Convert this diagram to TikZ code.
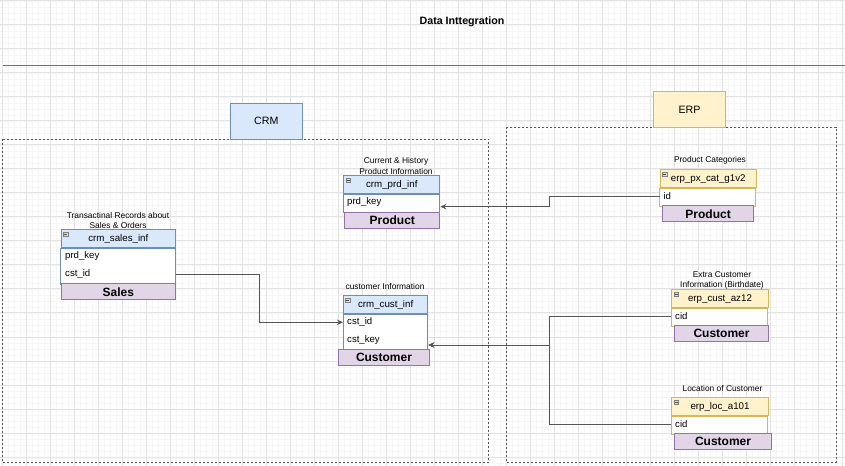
\documentclass[tikz,border=0pt]{standalone}
\usepackage{fontspec}
\setmainfont{Liberation Sans}
\usetikzlibrary{arrows.meta,calc}
\definecolor{crmfill}{HTML}{DAE8FC}
\definecolor{crmline}{HTML}{6C8EBF}
\definecolor{erpfill}{HTML}{FFF2CC}
\definecolor{erpline}{HTML}{D6B656}
\definecolor{tagfill}{HTML}{E1D5E7}
\definecolor{tagline}{HTML}{9673A6}
\definecolor{wire}{HTML}{555555}
\definecolor{rule}{HTML}{707070}
\definecolor{gridmaj}{HTML}{E2E2E2}
\definecolor{gridmin}{HTML}{F6F6F6}
\newcommand{\pxu}{0.75pt}
\tikzset{px/.style={x=0.75pt,y=-0.75pt,line width=.75pt},
  grp/.style={draw=#1line,fill=#1fill,inner sep=0pt,minimum width=72.5*\pxu,minimum height=36*\pxu,font=\fontsize{8}{9}\selectfont},
  grpbox/.style={draw=wire,dash pattern=on 1.5pt off 1.5pt,line width=.6pt},
  hdr/.style 2 args={draw=#1line,fill=#1fill,anchor=north west,inner sep=0pt,minimum width=#2*\pxu,minimum height=18*\pxu,font=\fontsize{7.3}{8}\selectfont},
  rowtxt/.style={anchor=west,inner sep=0pt,font=\fontsize{7.2}{8}\selectfont},
  tag/.style={draw=tagline,fill=tagfill,anchor=north west,inner sep=0pt,minimum width=#1*\pxu,minimum height=16*\pxu,font=\fontsize{9}{10}\selectfont\bfseries},
  captxt/.style={align=center,inner sep=0pt,font=\fontsize{6.3}{7.5}\selectfont},
  conn/.style={draw=wire,line width=.75pt,-{Stealth[length=4.5pt,width=4pt]}}}

\begin{document}
\begin{tikzpicture}[px]
  \useasboundingbox (0,0) rectangle (845,466);
  \fill[white] (0,0) rectangle (845,466);
  % background grid
  \foreach \gx in {2.5,8.5,...,845} \draw[gridmin,line width=.6pt] (\gx,0)--(\gx,466);
  \foreach \gy in {1,7,...,466} \draw[gridmin,line width=.6pt] (0,\gy)--(845,\gy);
  \foreach \gx in {2.5,26.5,...,845} \draw[gridmaj,line width=.75pt] (\gx,0)--(\gx,466);
  \foreach \gy in {1,25,...,466} \draw[gridmaj,line width=.75pt] (0,\gy)--(845,\gy);

  \node[font=\fontsize{8}{9}\selectfont\bfseries] (title) at (462,21.5) {Data Inttegration};
  \draw[rule,line width=1.2pt] (3,65.5)--(845,65.5);

  % source groups
  \draw[grpbox] (2.7,139.3) rectangle (488.7,462.7);
  \draw[grpbox] (506.7,127.3) rectangle (836,462.7);
  \node[grp=crm] (crm) at (266.3,121.3) {CRM};
  \node[grp=erp] (erp) at (689.5,109.5) {ERP};

  % crm tables
  \node[captxt] (salesc) at (118,220) {Transactinal Records about\\Sales \& Orders};
  \node[hdr={crm}{114.3}] (salesh) at (60.7,229.3) {crm\_sales\_inf};
  \draw[crmline,fill=white] (salesh.south west) rectangle ++(114.3,36);
  \node[rowtxt] (salesr1) at (64.7,256.3) {prd\_key};
  \node[rowtxt] (salesr2) at (64.7,274.3) {cst\_id};
  \node[tag=114.3] (salest) at (60.7,283.3) {Sales};

  \node[captxt] (prdc) at (396,166) {Current \& History\\Product Information};
  \node[hdr={crm}{96}] (prdh) at (343.3,175.3) {crm\_prd\_inf};
  \draw[crmline,fill=white] (prdh.south west) rectangle ++(96,18.4);
  \node[rowtxt] (prdr1) at (346.7,202.5) {prd\_key};
  \node[tag=95] (prdt) at (344.3,211.7) {Product};

  \node[captxt] (custc) at (385,286) {customer Information};
  \node[hdr={crm}{84.3}] (custh) at (343,295.3) {crm\_cust\_inf};
  \draw[crmline,fill=white] (custh.south west) rectangle ++(84.3,36);
  \node[rowtxt] (custr1) at (346.7,322.3) {cst\_id};
  \node[rowtxt] (custr2) at (346.7,340.3) {cst\_key};
  \node[tag=90.4] (custt) at (338.3,349.3) {Customer};

  % erp tables
  \node[captxt] (catc) at (710,160) {Product Categories};
  \node[hdr={erp}{96}] (cath) at (659.7,169.3) {erp\_px\_cat\_g1v2};
  \draw[erpline,fill=white] (cath.south west) rectangle ++(96,18);
  \node[rowtxt] (catr1) at (663,196.3) {id};
  \node[tag=90.7] (catt) at (662.3,205.3) {Product};

  \node[captxt] (azc) at (722,280) {Extra Customer\\Information (Birthdate)};
  \node[hdr={erp}{96.4}] (azh) at (671.3,289.3) {erp\_cust\_az12};
  \draw[erpline,fill=white] (azh.south west) rectangle ++(96.4,18);
  \node[rowtxt] (azr1) at (674.7,316.3) {cid};
  \node[tag=93.4] (azt) at (674.3,325.3) {Customer};

  \node[captxt] (locc) at (722.5,388) {Location of Customer};
  \node[hdr={erp}{96.4}] (loch) at (671.3,397.3) {erp\_loc\_a101};
  \draw[erpline,fill=white] (loch.south west) rectangle ++(96.4,18);
  \node[rowtxt] (locr1) at (674.7,424.3) {cid};
  \node[tag=96.4] (loct) at (674.3,433.3) {Customer};

  \foreach \h in {salesh,prdh,custh,cath,azh,loch}{
    \draw[gray,fill=gray!25,line width=.4pt] ([shift={(2.5,2.7)}]\h.north west) rectangle ++(4.6,4);
    \draw[black!70,line width=.5pt] ([shift={(3.4,4.7)}]\h.north west) -- ++(2.8,0);}

  % links
  \coordinate (salesbend) at (259.3,0);
  \coordinate (erpbend) at (549.3,0);
  \draw[conn] (catr1 -| cath.west) -- (catr1 -| erpbend) |- ($(prdr1 -| prdh.east)+(0,4.2)$);
  \draw[conn] (salesr2 -| salesh.east) -- (salesr2 -| salesbend) |- (custr1 -| custh.west);
  \draw[conn] (azr1 -| azh.west) -- (azr1 -| erpbend) |- ($(custr2 -| custh.east)+(0,4.7)$);
  \draw[conn] (locr1 -| loch.west) -- (locr1 -| erpbend) |- ($(custr2 -| custh.east)+(0,4.7)$);
\end{tikzpicture}
\end{document}
